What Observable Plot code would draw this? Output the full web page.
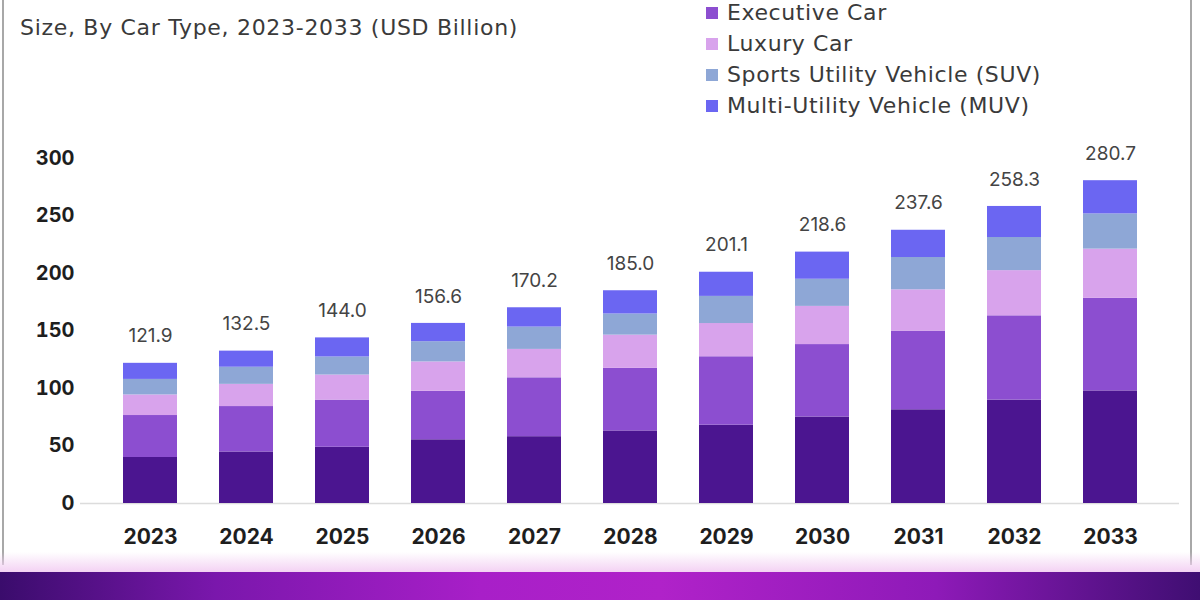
<!DOCTYPE html>
<html>
<head>
<meta charset="utf-8">
<script src="https://cdn.jsdelivr.net/npm/d3@7"></script>
<script src="https://cdn.jsdelivr.net/npm/@observablehq/plot@0.6"></script>
<style>
  html, body { margin: 0; padding: 0; background: #fff; }
  #wrap { position: relative; width: 1200px; height: 600px; overflow: hidden; background: #fff; font-family: "DejaVu Sans", Inter, sans-serif; }
  #title { position: absolute; left: 20px; top: 15px; font-size: 22px; letter-spacing: 0.7px; color: #3a3a3a; white-space: nowrap; }
  #legend { position: absolute; left: 706px; top: -3px; }
  .li { height: 31px; display: flex; align-items: center; font-size: 22px; letter-spacing: 0.6px; color: #3a3a3a; white-space: nowrap; }
  .sw { width: 12px; height: 12px; margin-right: 9px; }
  #chart { position: absolute; left: 0; top: 130px; }
  #borderL { position: absolute; left: 2px; top: 0; width: 2px; height: 565px; background: #a8a8a8; }
  #borderR { position: absolute; left: 1190px; top: 0; width: 2px; height: 565px; background: #a8a8a8; }
  #fade { position: absolute; left: 0; top: 552px; width: 1200px; height: 20px; background: linear-gradient(180deg, rgba(255,255,255,0), #f3d2f3); }
  #banner { position: absolute; left: 0; top: 572px; width: 1200px; height: 28px;
    background: linear-gradient(90deg, #3a0c6c 0%, #7a17ac 18%, #a81fc8 40%, #b022c9 55%, #8e1ab8 78%, #3f0e72 100%); }
</style>
</head>
<body>
<div id="wrap">
  <div id="borderL"></div>
  <div id="borderR"></div>
  <div id="title">Size, By Car Type, 2023-2033 (USD Billion)</div>
  <div id="legend"></div>
  <div id="chart"></div>
  <div id="fade"></div>
  <div id="banner"></div>
</div>
<script>
const years = ["2023","2024","2025","2026","2027","2028","2029","2030","2031","2032","2033"];
const categories = ["Economy Car","Executive Car","Luxury Car","Sports Utility Vehicle (SUV)","Multi-Utility Vehicle (MUV)"];
const colors = ["#4b1590","#8c4ed0","#d8a3ec","#8ea7d6","#6b66f2"];
const economy   = [40.0, 44.8, 48.9, 55.4, 58.1, 63.1, 68.1, 75.2, 81.5, 89.9, 97.9];
const executive = [36.5, 39.5, 41.0, 42.2, 51.2, 54.4, 59.5, 63.0, 68.4, 73.3, 80.5];
const luxury    = [17.9, 19.3, 21.8, 25.5, 24.7, 28.9, 28.9, 33.2, 35.9, 39.3, 42.8];
const suv       = [13.5, 14.9, 15.7, 17.6, 19.4, 18.4, 23.6, 23.6, 28.1, 28.8, 30.6];
const muv       = [14.0, 14.0, 16.6, 15.9, 16.8, 20.2, 21.0, 23.6, 23.7, 27.0, 28.9];
const totals    = [121.9, 132.5, 144.0, 156.6, 170.2, 185.0, 201.1, 218.6, 237.6, 258.3, 280.7];
const yTicks    = [0, 50, 100, 150, 200, 250, 300];

const series = [economy, executive, luxury, suv, muv];
const data = [];
categories.forEach((c, ci) => years.forEach((y, yi) => data.push({year: y, type: c, value: series[ci][yi]})));
const totalData = years.map((y, i) => ({year: y, total: totals[i], label: totals[i].toFixed(1)}));

// legend (the first item lies above the visible crop of the original)
const legend = document.getElementById("legend");
categories.slice(1).forEach((c, i) => {
  const row = document.createElement("div");
  row.className = "li";
  row.innerHTML = `<span class="sw" style="background:${colors[i+1]}"></span>${c}`;
  legend.appendChild(row);
});

const chart = Plot.plot({
  width: 1200,
  height: 430,
  marginLeft: 80,
  marginRight: 21,
  marginTop: 28,
  marginBottom: 57,
  style: {fontFamily: "Inter, 'Open Sans', sans-serif", background: "transparent", overflow: "visible"},
  x: {domain: years, padding: 0.44, label: null},
  y: {domain: [0, 300], ticks: yTicks, label: null},
  color: {domain: categories, range: colors},
  marks: [
    Plot.ruleY([0], {stroke: "#dcdcdc", strokeWidth: 1.5}),
    Plot.barY(data, {x: "year", y: "value", fill: "type", order: categories}),
    Plot.text(totalData, {x: "year", y: "total", text: "label", dy: -27, fontSize: 19, fill: "#444"}),
    Plot.axisX({tickSize: 0, tickPadding: 26, fontSize: 21, fontWeight: "bold", fill: "#1e1e1e"}),
    Plot.axisY({ticks: yTicks, tickSize: 0, tickPadding: 6, fontSize: 20, fontWeight: "bold", fill: "#1e1e1e"})
  ]
});
document.getElementById("chart").appendChild(chart);
</script>
</body>
</html>
